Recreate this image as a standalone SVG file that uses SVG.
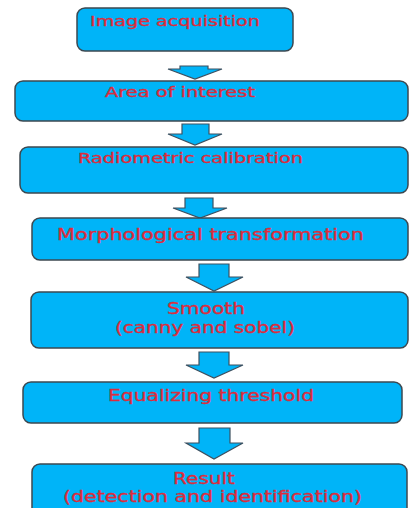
<svg xmlns="http://www.w3.org/2000/svg" width="409" height="508" viewBox="0 0 409 508">
<style>
.box{fill:#00b4f8;stroke:#3c4850;stroke-width:1.5}
.arr{fill:#00b4f8;stroke:#3c5060;stroke-width:1.2}
.t{fill:#dc2c3c;stroke:#dc2c3c;stroke-width:0.35;font-family:"DejaVu Sans","Open Sans",sans-serif}
</style>
<rect width="409" height="508" fill="#ffffff"/>
<g id="connectors">
<polygon class="arr" points="180,66 208,66 208,69 222,69 195,79 168,69 180,69"/>
<polygon class="arr" points="182,124 209,124 209,134 222,134 195,145 168,134 182,134"/>
<polygon class="arr" points="185,198 213,198 213,208 227,208 200,218 173,208 185,208"/>
<polygon class="arr" points="199,264 229,264 229,277 243,277 214,291 186,277 199,277"/>
<polygon class="arr" points="199,352 229,352 229,365 243,365 214,378 186,365 199,365"/>
<polygon class="arr" points="199,428 230,428 230,443 243,443 214,459 186,443 199,443"/>
</g>
<g id="n1">
<rect class="box" x="77" y="8" width="216" height="43" rx="8"/>
<text class="t" x="90" y="26" font-size="13.5" textLength="170" lengthAdjust="spacingAndGlyphs">Image acquisition</text>
</g>
<g id="n2">
<rect class="box" x="15" y="81" width="393" height="40" rx="8"/>
<text class="t" x="105" y="97" font-size="13.5" textLength="150" lengthAdjust="spacingAndGlyphs">Area of interest</text>
</g>
<g id="n3">
<rect class="box" x="20" y="147" width="388" height="46" rx="8"/>
<text class="t" x="78" y="163" font-size="13.5" textLength="225" lengthAdjust="spacingAndGlyphs">Radiometric calibration</text>
</g>
<g id="n4">
<rect class="box" x="32" y="218" width="376" height="42" rx="8"/>
<text class="t" x="57" y="240" font-size="16" textLength="307" lengthAdjust="spacingAndGlyphs">Morphological transformation</text>
</g>
<g id="n5">
<rect class="box" x="31" y="292" width="377" height="56" rx="8"/>
<text class="t" x="167" y="314" font-size="16" textLength="78" lengthAdjust="spacingAndGlyphs">Smooth</text>
<text class="t" x="115" y="333" font-size="16" textLength="180" lengthAdjust="spacingAndGlyphs">(canny and sobel)</text>
</g>
<g id="n6">
<rect class="box" x="23" y="382" width="379" height="41" rx="8"/>
<text class="t" x="108" y="401" font-size="16" textLength="206" lengthAdjust="spacingAndGlyphs">Equalizing threshold</text>
</g>
<g id="n7">
<rect class="box" x="32" y="464" width="375" height="60" rx="8"/>
<text class="t" x="173" y="484" font-size="15.5" textLength="62" lengthAdjust="spacingAndGlyphs">Result</text>
<text class="t" x="63" y="502" font-size="15.5" textLength="299" lengthAdjust="spacingAndGlyphs">(detection and identification)</text>
</g>
</svg>
